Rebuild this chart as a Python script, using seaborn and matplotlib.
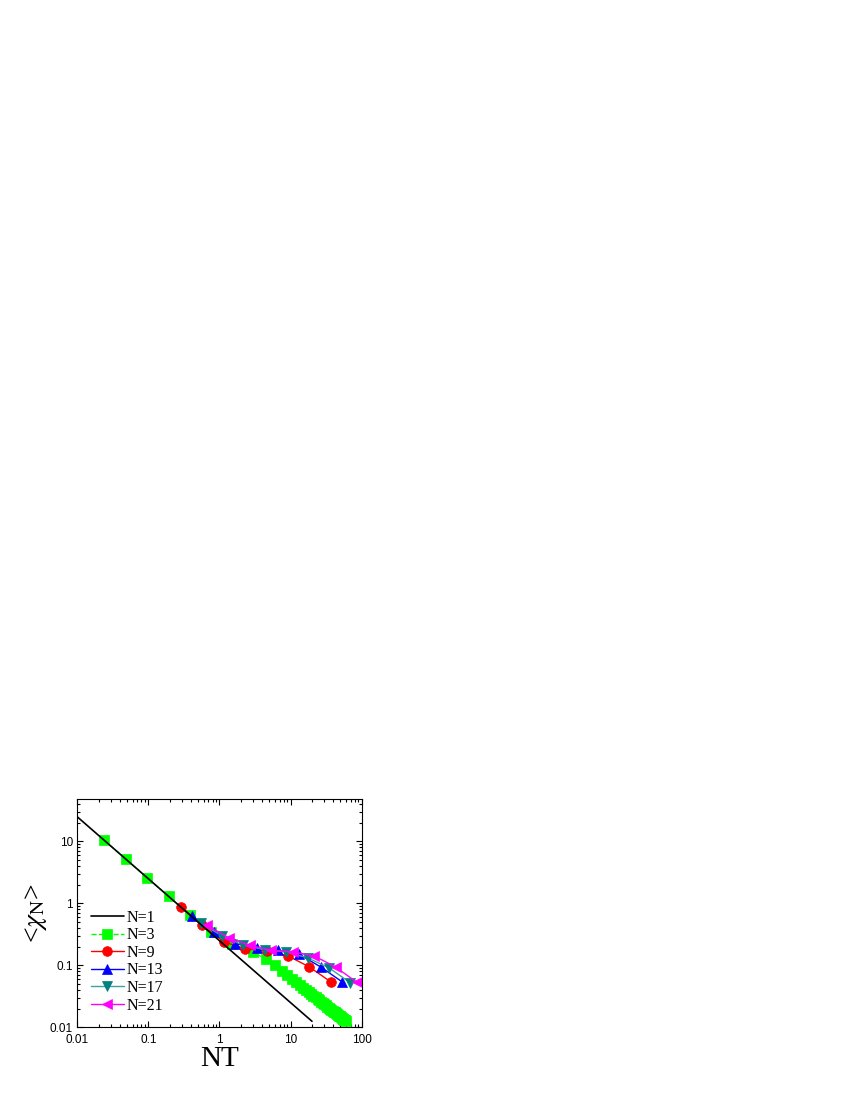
import numpy as np
import pandas as pd
import matplotlib
matplotlib.use('Agg')
import matplotlib.pyplot as plt
import seaborn as sns

# N=1 reference line (straight in log-log)
nt_1 = [0.01, 20.0]
chi_1 = [25.0, 0.0125]

# N=3
nt_3 = [0.024, 0.048, 0.096, 0.192, 0.384, 0.768, 1.5, 3.0, 4.5, 6.0,
        7.5, 9.0, 10.5, 12.0, 13.5, 15.0, 16.5, 18.0, 19.5, 21.0,
        22.5, 24.0, 25.5, 27.0, 28.5, 30.0, 31.5, 33.0, 34.5, 36.0,
        37.5, 39.0, 40.5, 42.0, 43.5, 45.0, 46.5, 48.0, 49.5, 51.0,
        52.5, 54.0, 55.5, 57.0, 58.5, 60.0]
chi_3 = [10.4, 5.2, 2.6, 1.3, 0.65, 0.34, 0.22, 0.163, 0.125, 0.10,
         0.0818, 0.0694, 0.0604, 0.0536, 0.0482, 0.0438, 0.0402, 0.0372, 0.0346, 0.0324,
         0.0304, 0.0287, 0.0272, 0.0258, 0.0246, 0.0235, 0.0225, 0.0216, 0.0207, 0.0199,
         0.0192, 0.0186, 0.0179, 0.0174, 0.0168, 0.0163, 0.0158, 0.0154, 0.0150, 0.0146,
         0.0142, 0.0138, 0.0135, 0.0132, 0.0129, 0.0126]

# N=9
nt_9 = [0.288, 0.576, 1.152, 2.304, 4.608, 9.216, 18.43, 36.86]
chi_9 = [0.88, 0.44, 0.24, 0.185, 0.172, 0.142, 0.094, 0.054]

# N=13
nt_13 = [0.416, 0.832, 1.664, 3.328, 6.656, 13.31, 26.62, 53.25]
chi_13 = [0.62, 0.35, 0.225, 0.188, 0.176, 0.15, 0.094, 0.054]

# N=17
nt_17 = [0.544, 1.088, 2.176, 4.352, 8.704, 17.41, 34.82, 69.63]
chi_17 = [0.48, 0.30, 0.21, 0.18, 0.165, 0.132, 0.091, 0.052]

# N=21
nt_21 = [0.672, 1.344, 2.688, 5.376, 10.75, 21.5, 43.0, 86.0]
chi_21 = [0.44, 0.28, 0.21, 0.175, 0.165, 0.142, 0.094, 0.053]

sns.set_theme(style='ticks')
plt.rcParams['font.family'] = ['Liberation Serif', 'DejaVu Serif']
plt.rcParams['mathtext.fontset'] = 'stix'
for key in ['text.color', 'axes.labelcolor', 'xtick.color', 'ytick.color', 'axes.edgecolor']:
    plt.rcParams[key] = 'black'

fig = plt.figure(figsize=(8.5, 11), dpi=100)
ax = fig.add_axes([0.0909, 0.0661, 0.3346, 0.2073])

# series drawn under the N=1 line
series = [
    ('N=3', nt_3, chi_3, 's', 7, '#00FF00', '#00FF00', '--'),
    ('N=9', nt_9, chi_9, 'o', 7, '#FF0000', '#FF0000', '-'),
    ('N=13', nt_13, chi_13, '^', 7.5, '#0000FF', '#0000FF', '-'),
    ('N=17', nt_17, chi_17, 'v', 7.5, '#008080', '#40A0A0', '-'),
    ('N=21', nt_21, chi_21, '<', 7.5, '#FF00FF', '#FF00FF', '-'),
]
for lab, xs, ys, mk, ms, mcol, lcol, ls in series:
    df = pd.DataFrame({'NT': xs, 'chi': ys})
    sns.lineplot(data=df, x='NT', y='chi', ax=ax, color=lcol, linestyle=ls,
                 linewidth=1.0, marker=mk, markersize=ms, markerfacecolor=mcol,
                 markeredgecolor=mcol, markeredgewidth=0.5, label=lab,
                 errorbar=None, sort=False)

df1 = pd.DataFrame({'NT': nt_1, 'chi': chi_1})
sns.lineplot(data=df1, x='NT', y='chi', ax=ax, color='black', linewidth=1.2,
             label='N=1', errorbar=None, sort=False)

ax.set_xscale('log')
ax.set_yscale('log')
ax.set_xlim(0.01, 100)
ax.set_ylim(0.01, 48)

ax.set_xticks([0.01, 0.1, 1, 10, 100], labels=['0.01', '0.1', '1', '10', '100'])
ax.set_yticks([0.01, 0.1, 1, 10], labels=['0.01', '0.1', '1', '10'])
ax.xaxis.set_minor_locator(matplotlib.ticker.LogLocator(base=10, subs=np.arange(2, 10)))
ax.yaxis.set_minor_locator(matplotlib.ticker.LogLocator(base=10, subs=np.arange(2, 10)))
ax.xaxis.set_minor_formatter(matplotlib.ticker.NullFormatter())
ax.yaxis.set_minor_formatter(matplotlib.ticker.NullFormatter())

ax.tick_params(which='both', direction='in', top=True, right=True, colors='black',
               width=0.8)
ax.tick_params(which='major', length=4, labelsize=8.5)
ax.tick_params(axis='x', which='major', pad=5)
ax.tick_params(axis='y', which='major', pad=3)
ax.tick_params(which='minor', length=2.2)
for lbl in ax.get_xticklabels() + ax.get_yticklabels():
    lbl.set_fontfamily(['Liberation Sans', 'DejaVu Sans'])

for sp in ax.spines.values():
    sp.set_color('black')
    sp.set_linewidth(0.8)

ax.set_xlabel('NT', fontsize=21, labelpad=0)
ax.set_ylabel(r'<$\chi_{\mathrm{N}}$>', fontsize=20, labelpad=1)

handles, labels = ax.get_legend_handles_labels()
order = [labels.index(n) for n in ['N=1', 'N=3', 'N=9', 'N=13', 'N=17', 'N=21']]
ax.legend([handles[i] for i in order], [labels[i] for i in order],
          loc='upper left', bbox_to_anchor=(0.048, 0.516), frameon=False,
          fontsize=11.5, handlelength=2.05, handletextpad=0.19, labelspacing=0.1,
          borderpad=0, borderaxespad=0, numpoints=1)

fig.savefig('out.png', dpi=100)
